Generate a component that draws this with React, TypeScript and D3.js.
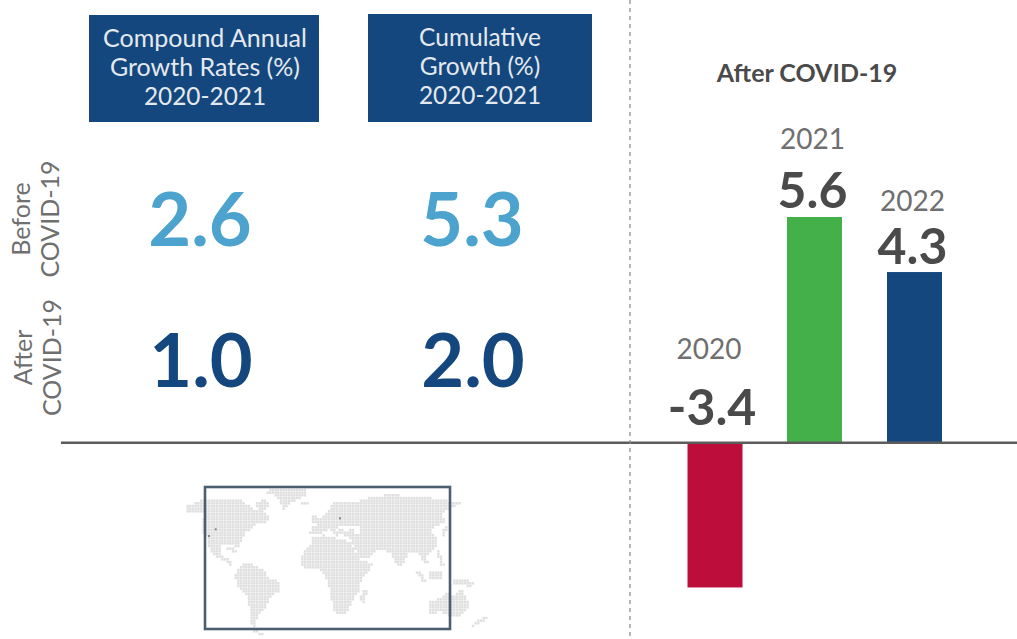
import React from "react";
import * as d3 from "d3";

const years = ["2020", "2021", "2022"];
const barHeights = [-3.62, 5.6, 4.23];
const barLabels = ["-3.4", "5.6", "4.3"];
const barColors = ["#bd0d3a", "#43b04a", "#14477d"];
const headers = [
  ["Compound Annual", "Growth Rates (%)", "2020-2021"],
  ["Cumulative", "Growth (%)", "2020-2021"],
];
const beforeValues = ["2.6", "5.3"];
const afterValues = ["1.0", "2.0"];

type P = [number, number];
const land: P[][] = [
  [[48,108],[75,98],[105,88],[160,88],[215,85],[225,100],[245,108],[250,125],[265,115],[255,100],[285,88],[300,110],[280,120],[300,150],[280,160],[262,158],[245,178],[228,185],[215,215],[205,235],[190,225],[160,222],[150,235],[155,255],[190,280],[185,290],[165,275],[135,260],[118,235],[112,205],[95,185],[95,170],[105,130],[75,125],[48,125]],
  [[288,62],[330,55],[412,56],[405,78],[370,95],[340,120],[328,95],[322,78],[288,72]],
  [[395,100],[414,100],[414,108],[395,108]],
  [[205,295],[225,278],[250,285],[280,300],[300,325],[332,335],[325,365],[300,385],[285,415],[262,440],[258,470],[240,465],[238,420],[235,385],[200,345],[195,320]],
  [[392,260],[420,225],[425,205],[460,195],[505,205],[540,215],[555,245],[572,270],[610,282],[590,310],[570,340],[565,365],[545,395],[530,430],[495,432],[482,380],[475,345],[465,312],[440,295],[405,298],[392,285]],
  [[418,190],[425,170],[445,170],[440,150],[460,135],[478,120],[490,95],[530,95],[540,100],[590,85],[660,72],[720,80],[800,85],[870,100],[830,120],[815,130],[830,160],[800,165],[785,185],[805,205],[800,230],[770,255],[775,285],[760,275],[745,250],[720,245],[695,290],[680,285],[660,245],[625,240],[600,265],[570,265],[550,225],[540,205],[535,178],[480,175],[450,195]],
  [[468,172],[490,172],[508,195],[497,197]],
  [[500,172],[520,176],[522,194],[508,190]],
  [[518,182],[548,180],[548,200],[522,198]],
  [[422,135],[445,135],[445,160],[425,165]],
  [[780,395],[810,385],[830,365],[850,375],[875,355],[897,405],[880,435],[850,445],[815,425],[780,432]],
  [[845,325],[880,325],[912,340],[900,350],[850,340]],
  [[780,305],[815,300],[815,330],[780,330]],
  [[745,295],[770,335],[760,338],[738,305]],
  [[772,340],[830,342],[830,348],[772,346]],
  [[805,240],[825,285],[815,290],[800,250]],
  [[825,165],[835,170],[820,205],[812,200]],
  [[170,228],[205,242],[200,248],[168,238]],
  [[575,365],[592,362],[582,398],[570,395]],
  [[900,466],[948,438],[950,448],[905,474]],
  [[245,478],[285,488],[280,494],[250,490]],
];
const water: P[][] = [
  [[505,170],[545,165],[555,178],[510,180]],
  [[555,165],[568,165],[568,195],[555,195]],
];
const markers: P[] = [[137,178],[117,198],[510,145]];
const gridStep = 8;

const BLUE = "#14477d";
const LIGHT = "#4ca3cd";
const DARK = "#4a4a4a";
const GREY = "#6f6f6f";
const FONT = "Lato, sans-serif";

export default function App() {
  const y = d3.scaleLinear().domain([0, 5.6]).range([442, 217]);
  const mx = d3.scaleLinear().domain([0, 1020]).range([170, 510]);
  const my = d3.scaleLinear().domain([0, 507]).range([470, 639]);
  const dots: P[] = [];
  for (const gx of d3.range(45, 985, gridStep)) {
    for (const gy of d3.range(52, 496, gridStep)) {
      const pt: P = [gx, gy];
      if (land.some((poly) => d3.polygonContains(poly, pt)) && !water.some((poly) => d3.polygonContains(poly, pt))) dots.push(pt);
    }
  }
  const headerX = [205, 480];
  const headerBox = [[89, 15, 230, 107], [368, 14, 224, 108]];
  const headerY = [[47, 76, 105], [46, 75, 104]];
  const yearBase = [359, 149, 211];
  const labelBase = [425, 208, 264];
  const barCenter = [715, 814.5, 914.5];
  return (
    <svg width={1017} height={639} style={{ position: "fixed", left: 0, top: 0, background: "#fff" }} fontFamily={FONT}>
      {dots.map(([a, b], i) => (
        <rect key={i} x={mx(a) - 1.2} y={my(b) - 1.2} width={2.4} height={2.4} fill="#dfdfdf" />
      ))}
      {markers.map(([a, b], i) => (
        <rect key={i} x={mx(a) - 1} y={my(b) - 1} width={2} height={2} fill="#888" />
      ))}
      <rect x={205} y={487} width={245} height={142} fill="none" stroke="#4a5f70" strokeWidth={2.6} />

      {headers.map((lines, i) => (
        <g key={i}>
          <rect x={headerBox[i][0]} y={headerBox[i][1]} width={headerBox[i][2]} height={headerBox[i][3]} fill={BLUE} />
          {lines.map((t, j) => (
            <text key={j} x={headerX[i]} y={headerY[i][j]} textAnchor="middle" fontSize={j === 2 ? 24.4 : i === 1 ? 24.5 : 25} fill="#e4e9ef">{t}</text>
          ))}
        </g>
      ))}

      {beforeValues.map((t, i) => (
        <text key={t} x={[200, 472][i]} y={246} textAnchor="middle" fontSize={74} fontWeight={700} fill={LIGHT}>{t}</text>
      ))}
      {afterValues.map((t, i) => (
        <text key={t} x={[201, 473][i]} y={387} textAnchor="middle" fontSize={74} fontWeight={700} fill={BLUE}>{t}</text>
      ))}

      <text transform="translate(30,219) rotate(-90)" textAnchor="middle" fontSize={25} fill={GREY}>
        <tspan x={0} dy={0}>Before</tspan>
        <tspan x={0} dy={29}>COVID-19</tspan>
      </text>
      <text transform="translate(32,357.5) rotate(-90)" textAnchor="middle" fontSize={25} fill={GREY}>
        <tspan x={0} dy={0}>After</tspan>
        <tspan x={0} dy={29}>COVID-19</tspan>
      </text>

      <text x={807} y={82} textAnchor="middle" fontSize={25} fontWeight={700} fill={DARK}>After COVID-19</text>

      {years.map((yr, i) => {
        const v = barHeights[i];
        const top = Math.min(y(v), y(0));
        const cx = barCenter[i];
        return (
          <g key={yr}>
            <rect x={cx - 27.5} y={top} width={55} height={Math.abs(y(v) - y(0))} fill={barColors[i]} />
            <text x={cx - (v < 0 ? 3 : 2)} y={labelBase[i]} textAnchor="middle" fontSize={50} fontWeight={700} fill={DARK}>{barLabels[i]}</text>
            <text x={cx - (v < 0 ? 6 : 2)} y={yearBase[i]} textAnchor="middle" fontSize={28} fill={GREY}>{yr}</text>
          </g>
        );
      })}

      <line x1={61} x2={1017} y1={442.7} y2={442.7} stroke="#5c5c5c" strokeWidth={2.4} />
      <line x1={630} x2={630} y1={0} y2={639} stroke="#858585" strokeWidth={1.2} strokeDasharray="4 4" />
    </svg>
  );
}
